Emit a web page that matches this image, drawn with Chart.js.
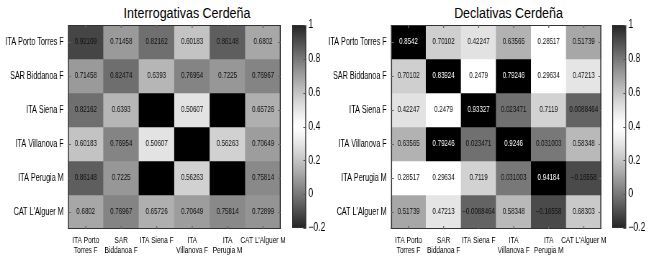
<!DOCTYPE html>
<html>
<head>
<meta charset="utf-8">
<script src="https://cdn.jsdelivr.net/npm/chart.js@4.4.1/dist/chart.umd.min.js"></script>
<style>
  html, body { margin: 0; padding: 0; background: #fff; }
  #wrap { position: relative; width: 650px; height: 269px; overflow: hidden; }
  /* l'originale ha testo molto stretto: comprimo in orizzontale */
  canvas { position: absolute; top: 0; transform: scaleX(0.72); transform-origin: 0 0; }
  .ttl { position: absolute; top: 5px; font: 14px "Liberation Sans", Arial, sans-serif; line-height: 16px; color: #000; white-space: nowrap; transform: scaleX(0.89); transform-origin: 50% 0; text-align: center; }
</style>
</head>
<body>
<div id="wrap">
  <div class="ttl" style="left:68px;width:238px">Interrogativas Cerdeña</div>
  <div class="ttl" style="left:391px;width:235px">Declativas Cerdeña</div>
  <canvas id="heatL" style="left:0px"></canvas>
  <canvas id="barL" style="left:292px"></canvas>
  <canvas id="heatR" style="left:325px"></canvas>
  <canvas id="barR" style="left:612px"></canvas>
</div>
<script>
// --- dati ---
const rowLabels = ['ITA Porto Torres F', 'SAR Biddanoa F', 'ITA Siena F', 'ITA Villanova F', 'ITA Perugia M', "CAT L'Alguer M"];
const colLabels = [['ITA Porto', 'Torres F'], ['SAR', 'Biddanoa F'], 'ITA Siena F', ['ITA', 'Villanova F'], ['ITA', 'Perugia M'], "CAT L'Alguer M"];

// Interrogativas (null = cella nera senza valore)
const interrogValues = [
    [0.92109, 0.71458, 0.82162, 0.60183, 0.86148, 0.6802],
    [0.71458, 0.82474, 0.6393, 0.76954, 0.7225, 0.76967],
    [0.82162, 0.6393, null, 0.50607, null, 0.65726],
    [0.60183, 0.76954, 0.50607, null, 0.56263, 0.70649],
    [0.86148, 0.7225, null, 0.56263, null, 0.75814],
    [0.6802, 0.76967, 0.65726, 0.70649, 0.75814, 0.72899]
];

// Declativas
const declValues = [
    [0.8542, 0.70102, 0.42247, 0.63565, 0.28517, 0.51739],
    [0.70102, 0.83924, 0.2479, 0.79246, 0.29634, 0.47213],
    [0.42247, 0.2479, 0.93327, 0.023471, 0.7119, 0.0088464],
    [0.63565, 0.79246, 0.023471, 0.9246, 0.031003, 0.58348],
    [0.28517, 0.29634, 0.7119, 0.031003, 0.94184, -0.16558],
    [0.51739, 0.47213, -0.0088464, 0.58348, -0.16558, 0.68303]
];
// valore sulla scala colori per le Declativas (null = nero)
const declColorValues = [
    [null, 0.57, 0.51, 0.65, 0.4, 0.68],
    [0.57, null, 0.4, null, 0.4, 0.50],
    [0.51, 0.4, null, -0.02, 0.56, -0.05],
    [0.65, null, -0.02, null, 0.0, 0.63],
    [0.4, 0.4, 0.56, 0.0, null, -0.11],
    [0.68, 0.50, -0.05, 0.63, -0.11, 0.585]
];

const cbarMin = -0.2;
const cbarMax = 1;

const K = 0.72; // compressione orizzontale (vedi CSS)
const FONT = '"Liberation Sans", Arial, sans-serif';
Chart.defaults.font.family = FONT;
Chart.defaults.color = '#000';

// --- colormap grigia (bianco a 0.4, scuro agli estremi) ---
function grayLevel(v) {
    if (v === null) return 0;
    const t = Math.abs(v - 0.4) / 0.6;
    const g = 255 - 220 * Math.pow(t, 1.2);
    return Math.max(0, Math.min(255, Math.round(g)));
}
function grayFor(v) {
    const g = grayLevel(v);
    return `rgb(${g},${g},${g})`;
}
function fmt(v) {
    return String(v).replace('-', '\u2212');
}

function sizeCanvas(id, cssWidth) {
    const c = document.getElementById(id);
    c.width = Math.round(cssWidth / K);
    c.height = 269;
    return c;
}

// cornice con linee verticali più spesse per compensare la compressione
function drawFrame(ctx, a, color) {
    ctx.strokeStyle = color;
    ctx.lineWidth = 1;
    ctx.beginPath();
    ctx.moveTo(a.left, Math.round(a.top) + 0.5); ctx.lineTo(a.right, Math.round(a.top) + 0.5);
    ctx.moveTo(a.left, Math.round(a.bottom) - 0.5); ctx.lineTo(a.right, Math.round(a.bottom) - 0.5);
    ctx.stroke();
    ctx.lineWidth = 1 / K;
    ctx.beginPath();
    ctx.moveTo(a.left + 0.7, a.top); ctx.lineTo(a.left + 0.7, a.bottom);
    ctx.moveTo(a.right - 0.7, a.top); ctx.lineTo(a.right - 0.7, a.bottom);
    ctx.stroke();
}

// --- plugin: testo nelle celle, cornice e tacche ---
const heatDecor = {
    id: 'heatDecor',
    afterDatasetsDraw(chart) {
        const { ctx, chartArea: a } = chart;
        ctx.save();
        ctx.font = '8.5px ' + FONT;
        ctx.textAlign = 'center';
        ctx.textBaseline = 'middle';
        chart.data.datasets.forEach((ds, r) => {
            const meta = chart.getDatasetMeta(r);
            meta.data.forEach((bar, c) => {
                const v = ds.cellValues[c];
                if (v === null) return;
                ctx.fillStyle = grayLevel(ds.colorValues[c]) < 40 ? '#fff' : '#111';
                ctx.fillText(fmt(v), bar.x, (bar.y + bar.base) / 2);
            });
        });
        drawFrame(ctx, a, '#333');
        // tacche interne
        ctx.strokeStyle = '#666';
        const xs = chart.scales.x, ys = chart.scales.y;
        ctx.lineWidth = 1 / K;
        colLabels.forEach((_, i) => {
            const x = xs.getPixelForValue(i);
            ctx.beginPath();
            ctx.moveTo(x, a.top); ctx.lineTo(x, a.top + 3);
            ctx.moveTo(x, a.bottom); ctx.lineTo(x, a.bottom - 3);
            ctx.stroke();
        });
        ctx.lineWidth = 1;
        rowLabels.forEach((_, i) => {
            const y = Math.round(ys.getPixelForValue(i + 0.5)) + 0.5;
            ctx.beginPath();
            ctx.moveTo(a.left, y); ctx.lineTo(a.left + 4, y);
            ctx.moveTo(a.right, y); ctx.lineTo(a.right - 4, y);
            ctx.stroke();
        });
        ctx.restore();
    }
};

function drawHeatmap(canvasId, cssWidth, values, colorValues, axisWidth) {
    const canvas = sizeCanvas(canvasId, cssWidth);
    const datasets = values.map((row, r) => ({
        data: row.map(() => [r, r + 1]),
        cellValues: row,
        colorValues: colorValues[r],
        backgroundColor: colorValues[r].map(grayFor),
        borderWidth: 0,
        barPercentage: 1,
        categoryPercentage: 1,
        grouped: false
    }));

    return new Chart(canvas, {
        type: 'bar',
        data: { labels: colLabels, datasets: datasets },
        options: {
            responsive: false,
            animation: false,
            layout: { padding: { top: 25, right: 3 / K, left: 0, bottom: 0 } },
            scales: {
                x: {
                    grid: { display: false, drawTicks: false },
                    border: { display: false },
                    ticks: { font: { size: 9, lineHeight: 1.15 }, padding: 6, maxRotation: 0, autoSkip: false, color: '#000' },
                    afterFit: (s) => { s.height = 40; }
                },
                y: {
                    type: 'linear',
                    min: 0,
                    max: 6,
                    reverse: true,
                    grid: { display: false, drawTicks: false },
                    border: { display: false },
                    afterBuildTicks: (s) => { s.ticks = rowLabels.map((_, i) => ({ value: i + 0.5 })); },
                    ticks: {
                        font: { size: 10 },
                        padding: 6,
                        color: '#000',
                        callback: (v) => rowLabels[Math.floor(v)]
                    },
                    afterFit: (s) => { s.width = axisWidth / K; }
                }
            },
            plugins: { legend: { display: false }, tooltip: { enabled: false } }
        },
        plugins: [heatDecor]
    });
}

// --- barra dei colori ---
const cbarDecor = {
    id: 'cbarDecor',
    afterDatasetsDraw(chart) {
        const { ctx, chartArea: a } = chart;
        ctx.save();
        drawFrame(ctx, a, '#333');
        ctx.strokeStyle = '#555';
        ctx.lineWidth = 1;
        chart.scales.y.ticks.forEach((t) => {
            const y = Math.round(chart.scales.y.getPixelForValue(t.value)) + 0.5;
            ctx.beginPath();
            ctx.moveTo(a.right - 4, y); ctx.lineTo(a.right, y);
            ctx.stroke();
        });
        ctx.restore();
    }
};

function drawColorbar(canvasId) {
    const canvas = sizeCanvas(canvasId, 38);
    return new Chart(canvas, {
        type: 'bar',
        data: {
            labels: [''],
            datasets: [{
                data: [[cbarMin, cbarMax]],
                backgroundColor: (context) => {
                    const chart = context.chart;
                    if (!chart.chartArea) return '#888';
                    const ys = chart.scales.y;
                    const g = chart.ctx.createLinearGradient(0, ys.getPixelForValue(cbarMax), 0, ys.getPixelForValue(cbarMin));
                    const steps = 48;
                    for (let i = 0; i <= steps; i++) {
                        const v = cbarMax - (cbarMax - cbarMin) * i / steps;
                        g.addColorStop(i / steps, grayFor(v));
                    }
                    return g;
                },
                borderWidth: 0,
                barPercentage: 1,
                categoryPercentage: 1
            }]
        },
        options: {
            responsive: false,
            animation: false,
            layout: { padding: { top: 25, bottom: 41, left: 0, right: 0 } },
            scales: {
                x: { display: false },
                y: {
                    position: 'right',
                    min: cbarMin,
                    max: cbarMax,
                    grid: { display: false, drawTicks: false },
                    border: { display: false },
                    ticks: {
                        stepSize: 0.2,
                        padding: 3,
                        font: { size: 12 },
                        color: '#000',
                        callback: (v) => fmt(Number(v.toFixed(1)))
                    },
                    afterFit: (s) => { s.width = 24 / K; }
                }
            },
            plugins: { legend: { display: false }, tooltip: { enabled: false } }
        },
        plugins: [cbarDecor]
    });
}

drawHeatmap('heatL', 290, interrogValues, interrogValues, 68);
drawHeatmap('heatR', 286, declValues, declColorValues, 66);
drawColorbar('barL');
drawColorbar('barR');
</script>
</body>
</html>
